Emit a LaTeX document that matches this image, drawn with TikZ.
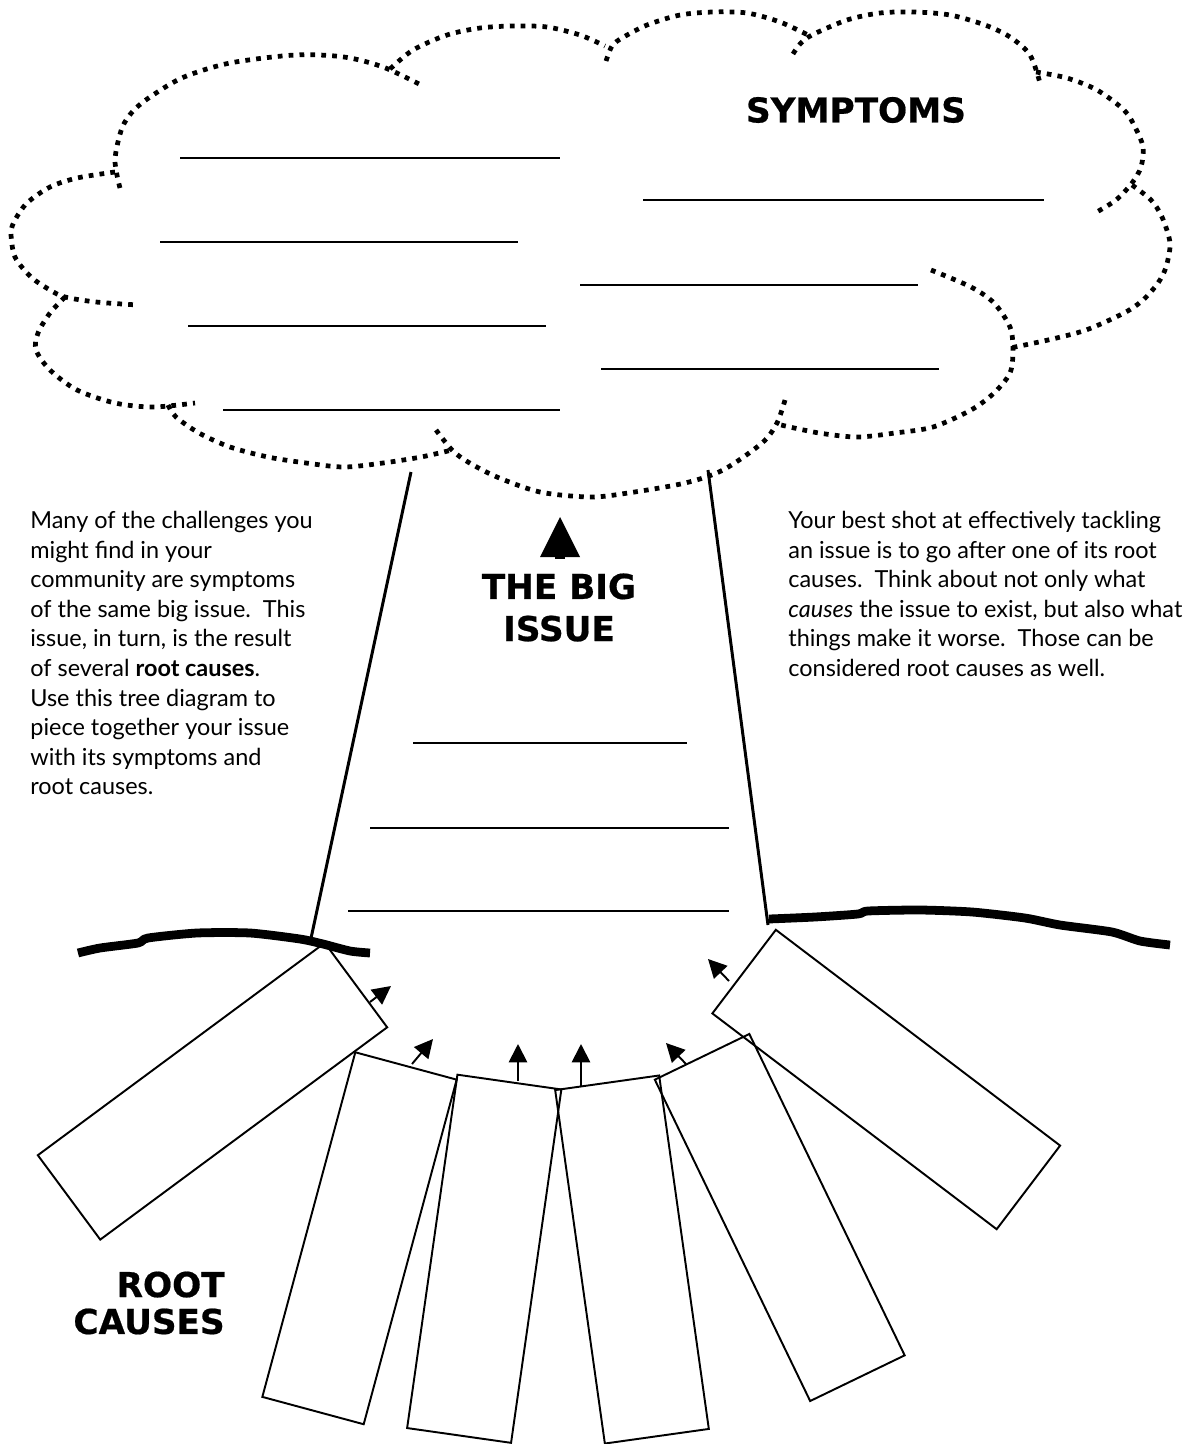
\documentclass[tikz,border=0pt]{standalone}
\usepackage{fontspec}
\setmainfont{Lato}
\newfontfamily\headfont{DejaVu Sans}[BoldFont={DejaVu Sans Bold}, BoldFeatures={FakeBold=0.6}]
\usetikzlibrary{arrows.meta}
\tikzset{
  cloudline/.style={line width=2.7pt, dash pattern=on 2.7pt off 3.5pt, line cap=butt},
  blank/.style={line width=1.1pt},
  trunk/.style={line width=1.7pt},
  ground/.style={line width=5pt, line cap=butt, line join=round},
  rootbox/.style={draw, line width=1.1pt, minimum width=2.1cm, minimum height=7.14cm, inner sep=0pt, outer sep=0pt},
  upar/.style={line width=1.1pt, -{Triangle[length=10.5pt,width=10.5pt]}},
  heading/.style={font=\headfont\bfseries\fontsize{19.5pt}{24pt}\selectfont, inner sep=0pt},
  body/.style={font=\fontsize{13.35pt}{16.84pt}\selectfont, align=left, inner sep=0pt, anchor=north west}
}
\begin{document}
\begin{tikzpicture}[x=0.02cm,y=-0.02cm]
\fill[white] (0,0) rectangle (1188,1444);
\useasboundingbox (0,0) rectangle (1188,1444);

% cloud bumps
\draw[cloudline] plot[smooth] coordinates {(120,188) (115,160) (122,128) (134,110) (153,95) (184,77) (230,63) (295,55) (344,57) (383,67) (421,85)};
\draw[cloudline] plot[smooth] coordinates {(390,69) (413,50) (447,35) (480,28) (513,26) (547,27) (580,35) (605,46)};
\draw[cloudline] plot[smooth] coordinates {(606,61) (612,46) (622,38) (647,25) (680,15) (713,12) (747,13) (780,22) (810,36)};
\draw[cloudline] plot[smooth] coordinates {(793,54) (800,44) (812,35) (847,20) (880,13) (914,12) (950,15) (985,25) (1010,37) (1030,55) (1040,83)};
\draw[cloudline] plot[smooth] coordinates {(1036,72) (1067,78) (1097,90) (1124,110) (1135,127) (1143,147) (1141,167) (1132,183) (1116,200) (1095,213)};
\draw[cloudline] plot[smooth] coordinates {(1132,185) (1151,200) (1162,217) (1170,243) (1166,267) (1158,283) (1143,300) (1124,313) (1086,330) (1048,340) (1010,348)};
\draw[cloudline] plot[smooth] coordinates {(931,270) (971,287) (994,303) (1010,327) (1013,350) (1010,373) (994,393) (971,410) (933,427) (895,433) (857,437) (819,433) (781,425)};
\draw[cloudline] plot[smooth] coordinates {(785,400) (777,423) (762,443) (723,470) (685,483) (628,493) (590,497) (540,492) (497,477) (468,462) (452,450) (436,430)};
\draw[cloudline] plot[smooth] coordinates {(168,405) (176,417) (199,433) (230,447) (268,457) (306,463) (344,467) (383,463) (421,457) (452,450)};
\draw[cloudline] plot[smooth] coordinates {(65,297) (50,313) (38,333) (36,350) (50,370) (77,390) (115,403) (153,407) (195,403)};
\draw[cloudline] plot[smooth] coordinates {(115,172) (77,178) (50,187) (27,203) (15,220) (11,233) (15,257) (31,277) (50,290) (65,297) (96,302) (138,305)};

% symptom blanks
\draw[blank] (180,158) -- (560,158);
\draw[blank] (160,242) -- (518,242);
\draw[blank] (188,326) -- (546,326);
\draw[blank] (223,410) -- (560,410);
\draw[blank] (643,200) -- (1044,200);
\draw[blank] (580,285) -- (918,285);
\draw[blank] (601,369) -- (939,369);

\node[heading] (symptoms) at (856,110) {SYMPTOMS};

% trunk
\draw[trunk] (411,472) -- (310,943);
\draw[trunk] (708,470) -- (768,925);

% big issue
\fill (560,517) -- (580,557) -- (540,557) -- cycle;
\fill (555,556) rectangle (565,559);
\node[heading, align=center] (bigissue) at (559,607.5) {THE BIG\\ISSUE};
\draw[blank] (413,743) -- (687,743);
\draw[blank] (370,828) -- (729,828);
\draw[blank] (348,911) -- (729,911);

% ground
\draw[ground] plot[smooth, tension=0.4] coordinates {(78,953) (100,948) (138,943) (148,938) (197,933) (250,933) (300,939) (323,944) (350,951) (370,953)};
\draw[ground] plot[smooth, tension=0.4] coordinates {(769,919) (815,917) (858,914) (868,911) (920,910) (972,912) (1025,918) (1060,925) (1112,932) (1140,941) (1170,945)};

% root boxes
\node[rootbox, rotate=-53.5] (b1) at (212.5,1091.25) {};
\node[rootbox, rotate=-15.1] (b2) at (359.5,1238.25) {};
\node[rootbox, rotate=-8.1] (b3) at (484.25,1258.75) {};
\node[rootbox, rotate=8.0] (b4) at (632,1259.5) {};
\node[rootbox, rotate=25.8] (b5) at (779.75,1217.5) {};
\node[rootbox, rotate=52.8] (b6) at (886.25,1079.5) {};

% arrows
\coordinate (a1s) at (370,1002); \coordinate (a1e) at (391,986);
\coordinate (a2s) at (412,1064); \coordinate (a2e) at (433,1039);
\coordinate (a3s) at (518,1081); \coordinate (a3e) at (518,1044);
\coordinate (a4s) at (581,1086); \coordinate (a4e) at (581,1044);
\coordinate (a5s) at (686,1064); \coordinate (a5e) at (666,1043);
\coordinate (a6s) at (729,981);  \coordinate (a6e) at (708,959);
\draw[upar] (a1s) -- (a1e);
\draw[upar] (a2s) -- (a2e);
\draw[upar] (a3s) -- (a3e);
\draw[upar] (a4s) -- (a4e);
\draw[upar] (a5s) -- (a5e);
\draw[upar] (a6s) -- (a6e);

\node[heading, align=right, anchor=east, font=\headfont\bfseries\fontsize{19.5pt}{21pt}\selectfont] (rootcauses) at (225,1303) {ROOT\\CAUSES};

% texts
\node[body] (lefttext) at (30,511) {Many of the challenges you\\
might find in your\\
community are symptoms\\
of the same big issue.\ \ This\\
issue, in turn, is the result\\
of several \textbf{root causes}.\\
Use this tree diagram to\\
piece together your issue\\
with its symptoms and\\
root causes.};
\node[body] (righttext) at (788,511) {Your best shot at effectively tackling\\
an issue is to go after one of its root\\
causes.\ \ Think about not only what\\
\textit{causes} the issue to exist, but also what\\
things make it worse.\ \ Those can be\\
considered root causes as well.};
\end{tikzpicture}
\end{document}
